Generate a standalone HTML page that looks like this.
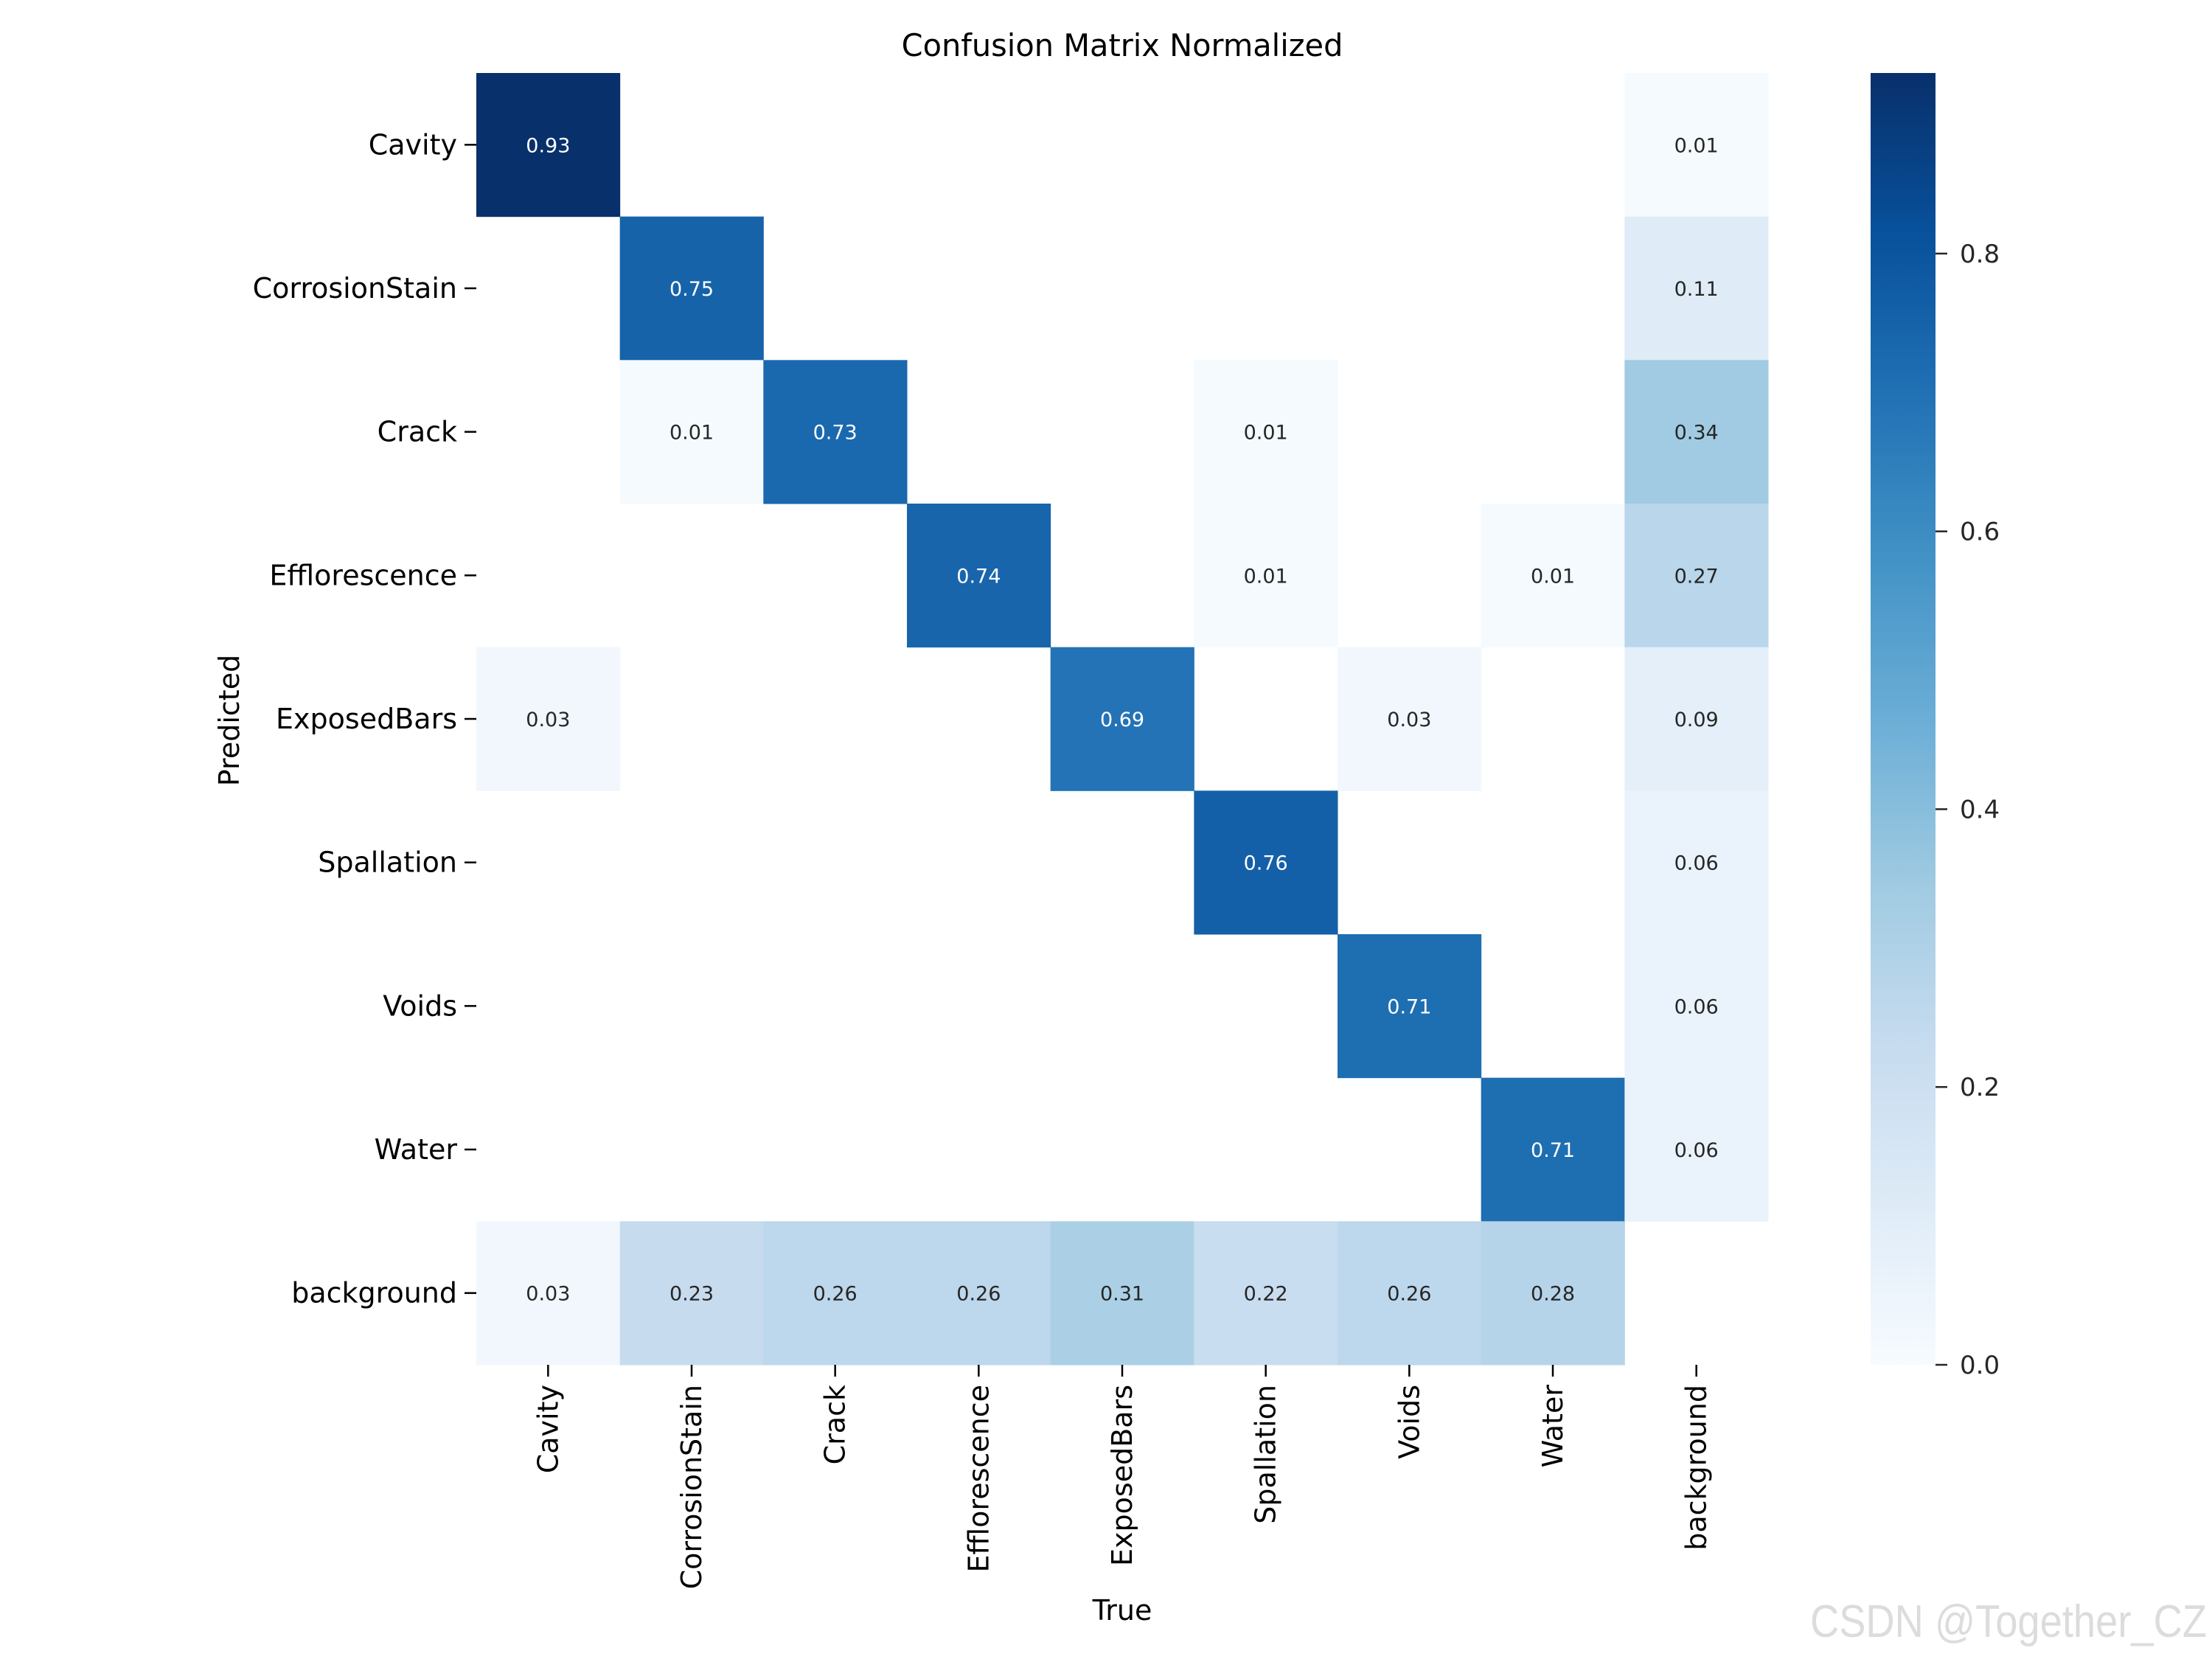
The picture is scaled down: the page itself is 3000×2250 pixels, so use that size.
<!DOCTYPE html>
<html><head><meta charset="utf-8">
<style>
html,body{margin:0;padding:0;background:#fff;}
svg{display:block;font-family:"DejaVu Sans","Liberation Sans",sans-serif;}
</style></head>
<body>
<svg id="chart" width="3000" height="2250" viewBox="0 0 3000 2250" xmlns="http://www.w3.org/2000/svg">
<defs>
<linearGradient id="cbg" x1="0" y1="1" x2="0" y2="0">
<stop offset="0" stop-color="#f7fbff"/><stop offset="0.125" stop-color="#deebf7"/><stop offset="0.25" stop-color="#c6dbef"/><stop offset="0.375" stop-color="#9ecae1"/><stop offset="0.5" stop-color="#6baed6"/><stop offset="0.625" stop-color="#4292c6"/><stop offset="0.75" stop-color="#2171b5"/><stop offset="0.875" stop-color="#08519c"/><stop offset="1" stop-color="#08306b"/>
</linearGradient>
</defs>
<text x="1522" y="76" font-size="41.5" text-anchor="middle" fill="#000">Confusion Matrix Normalized</text>
<text x="1522" y="2197" font-size="38" text-anchor="middle" fill="#000">True</text>
<text x="0" y="0" font-size="38" text-anchor="middle" fill="#000" transform="translate(324,977) rotate(-90)">Predicted</text>
<g id="cells"></g>
<g id="ylabels"></g>
<g id="xlabels"></g>
<rect x="2537" y="99" width="88" height="1752" fill="url(#cbg)"/>
<g id="cbticks"></g>
<text x="2455" y="2220" font-size="62" fill="#dcdcdc" textLength="538" lengthAdjust="spacingAndGlyphs" font-family="Liberation Sans, sans-serif">CSDN @Together_CZ</text>
</svg>
<script>
const rowLabels = ["Cavity","CorrosionStain","Crack","Efflorescence","ExposedBars","Spallation","Voids","Water","background"];
const colLabels = ["Cavity","CorrosionStain","Crack","Efflorescence","ExposedBars","Spallation","Voids","Water","background"];
const rowCavity = [0.93,0,0,0,0,0,0,0,0.01];
const rowCorrosionStain = [0,0.75,0,0,0,0,0,0,0.11];
const rowCrack = [0,0.01,0.73,0,0,0.01,0,0,0.34];
const rowEfflorescence = [0,0,0,0.74,0,0.01,0,0.01,0.27];
const rowExposedBars = [0.03,0,0,0,0.69,0,0.03,0,0.09];
const rowSpallation = [0,0,0,0,0,0.76,0,0,0.06];
const rowVoids = [0,0,0,0,0,0,0.71,0,0.06];
const rowWater = [0,0,0,0,0,0,0,0.71,0.06];
const rowBackground = [0.03,0.23,0.26,0.26,0.31,0.22,0.26,0.28,0];
const matrix = [rowCavity,rowCorrosionStain,rowCrack,rowEfflorescence,rowExposedBars,rowSpallation,rowVoids,rowWater,rowBackground];
const cbTicks = [0,0.2,0.4,0.6,0.8];
const vmax = 0.93;

const NS = "http://www.w3.org/2000/svg";
const L = 646, T = 99, W = 1752, H = 1752;
const cw = W / colLabels.length, ch = H / rowLabels.length;
const xPos = i => L + i * cw;
const yPos = j => T + j * ch;
const cbY = v => 1851 - (v / vmax) * 1752;
const stops = ["#f7fbff","#deebf7","#c6dbef","#9ecae1","#6baed6","#4292c6","#2171b5","#08519c","#08306b"];
function hex(c){return [1,3,5].map(k=>parseInt(c.substr(k,2),16));}
function blues(v){
  let t = Math.max(0, Math.min(1, v / vmax)) * (stops.length - 1);
  let i = Math.min(Math.floor(t), stops.length - 2), f = t - i;
  const a = hex(stops[i]), b = hex(stops[i+1]);
  return "rgb(" + a.map((x,k)=>Math.round(x + (b[k]-x)*f)).join(",") + ")";
}
function mk(tag, attrs, parent){const e=document.createElementNS(NS,tag);for(const k in attrs)e.setAttribute(k,attrs[k]);parent.appendChild(e);return e;}

const cells = document.getElementById("cells");
matrix.forEach((row, j) => {
  row.forEach((v, i) => {
    if (v < 0.005) return;
    const r = mk("rect", {x: xPos(i), y: yPos(j), width: cw + 0.5, height: ch + 0.5, fill: blues(v)}, cells);
    
    
    const t = mk("text", {x: xPos(i) + cw/2, y: yPos(j) + ch/2 + 10, "font-size": 27, "text-anchor": "middle", fill: v > vmax*0.5 ? "#ffffff" : "#262626"}, cells);
    
    
    t.textContent = v.toFixed(2);
  });
});

const yl = document.getElementById("ylabels");
rowLabels.forEach((lab, j) => {
  const cy = yPos(j) + ch/2;
  mk("line", {x1: 630, x2: 646, y1: cy, y2: cy, stroke: "#000", "stroke-width": 2.5}, yl);
  const t = mk("text", {x: 620, y: cy + 13, "font-size": 38, "text-anchor": "end", fill: "#000"}, yl);
  
  
  t.textContent = lab;
});

const xl = document.getElementById("xlabels");
colLabels.forEach((lab, i) => {
  const cx = xPos(i) + cw/2;
  mk("line", {x1: cx, x2: cx, y1: 1851, y2: 1867, stroke: "#000", "stroke-width": 2.5}, xl);
  const t = mk("text", {x: 0, y: 0, "font-size": 38, "text-anchor": "end", fill: "#000", transform: "translate(" + (cx + 13) + ",1878) rotate(-90)"}, xl);
  
  
  t.textContent = lab;
});

const cb = document.getElementById("cbticks");
cbTicks.forEach(v => {
  const y = cbY(v);
  mk("line", {x1: 2625, x2: 2641, y1: y, y2: y, stroke: "#262626", "stroke-width": 2.5}, cb);
  const t = mk("text", {x: 2658, y: y + 12, "font-size": 34, fill: "#262626"}, cb);
  
  
  t.textContent = v.toFixed(1);
});
</script>
</body></html>
